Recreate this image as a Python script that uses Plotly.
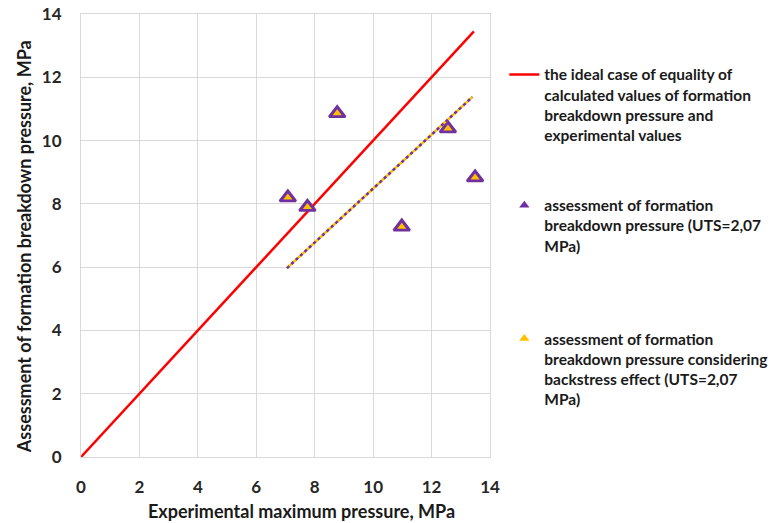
import plotly.graph_objects as go

# Data
exp_max_pressure = [7.08, 7.75, 8.77, 10.98, 12.56, 13.49]
fbp_uts = [8.20, 7.90, 10.86, 7.28, 10.38, 8.83]
fbp_backstress = [8.20, 7.90, 10.86, 7.28, 10.38, 8.83]

ideal_x = [0, 13.45]
ideal_y = [0, 13.45]

trend_x = [7.05, 13.4]
trend_y = [5.97, 11.38]

tick_vals = [0, 2, 4, 6, 8, 10, 12, 14]

x_title = "Experimental maximum pressure, MPa"
y_title = "Assessment of formation breakdown pressure, MPa"
legend_ideal = "the ideal case of equality of<br>calculated values of formation<br>breakdown pressure and<br>experimental values"
legend_uts = "assessment of formation<br>breakdown pressure (UTS=2,07<br>MPa)"
legend_back = "assessment of formation<br>breakdown pressure considering<br>backstress effect (UTS=2,07<br>MPa)"

RED = "#FF0000"
PURPLE = "#7030A0"
YELLOW = "#FFC000"
FONT = "Lato"

fig = go.Figure()

fig.add_trace(go.Scatter(
    x=ideal_x, y=ideal_y, mode="lines",
    line=dict(color=RED, width=2.5),
    name=legend_ideal, legend="legend",
))
fig.add_trace(go.Scatter(
    x=exp_max_pressure, y=fbp_uts, mode="markers",
    marker=dict(symbol="triangle-up", size=14, color=PURPLE,
                line=dict(color=PURPLE, width=2.5)),
    name=legend_uts, showlegend=False,
))
fig.add_trace(go.Scatter(
    x=exp_max_pressure, y=fbp_backstress, mode="markers",
    marker=dict(symbol="triangle-up", size=8, color=YELLOW),
    name=legend_back, showlegend=False,
))
fig.add_trace(go.Scatter(
    x=trend_x, y=trend_y, mode="lines",
    line=dict(color=YELLOW, width=2.5),
    showlegend=False, hoverinfo="skip",
))
fig.add_trace(go.Scatter(
    x=trend_x, y=trend_y, mode="lines",
    line=dict(color=PURPLE, width=2.5, dash="3px,3px"),
    showlegend=False, hoverinfo="skip",
))
# legend entries with small, uniform symbols (as in the reference legend)
fig.add_trace(go.Scatter(
    x=[None], y=[None], mode="markers",
    marker=dict(symbol="triangle-up", size=9, color=PURPLE),
    name=legend_uts, legend="legend2",
))
fig.add_trace(go.Scatter(
    x=[None], y=[None], mode="markers",
    marker=dict(symbol="triangle-up", size=9, color=YELLOW),
    name=legend_back, legend="legend3",
))

legend_common = dict(
    xanchor="left", yanchor="top", valign="top",
    font=dict(family=FONT, size=15.5, color="#1a1a1a", weight="bold"),
    bgcolor="rgba(0,0,0,0)", borderwidth=0, itemwidth=30,
)

axis_common = dict(
    range=[0, 14], tickvals=tick_vals, automargin=False,
    showgrid=True, gridcolor="#d9d9d9", gridwidth=1,
    showline=True, linecolor="#d9d9d9", linewidth=1, mirror=True,
    zeroline=False, ticks="", ticklabelstandoff=15,
    tickfont=dict(family=FONT, size=17, color="#262626", weight="bold"),
)

title_font = dict(family=FONT, size=18, color="#1a1a1a", weight="bold")

fig.update_layout(
    width=772, height=523,
    margin=dict(l=81, r=282, t=14, b=66, autoexpand=False),
    paper_bgcolor="white", plot_bgcolor="white",
    showlegend=True,
    xaxis=dict(**axis_common),
    yaxis=dict(**axis_common),
    legend=dict(**legend_common, x=1.035, y=0.901),
    legend2=dict(**legend_common, x=1.035, y=0.6057),
    legend3=dict(**legend_common, x=1.035, y=0.305),
    annotations=[
        dict(text=x_title, xref="paper", yref="paper", x=0.538, y=-0.122,
             xanchor="center", yanchor="middle", showarrow=False, font=title_font),
        dict(text=y_title, xref="paper", yref="paper", x=-0.139, y=0.474,
             xanchor="center", yanchor="middle", showarrow=False, textangle=-90,
             font=title_font),
    ],
)

fig.write_html("out.html")
